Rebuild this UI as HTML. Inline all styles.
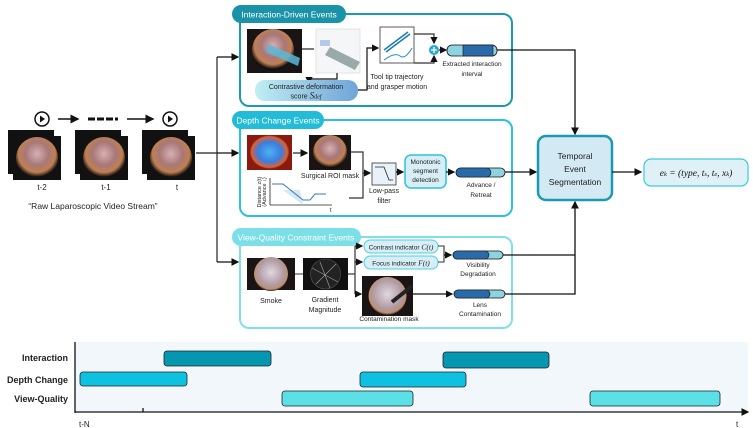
<!DOCTYPE html>
<html><head><meta charset="utf-8"><style>
body{margin:0;background:#fff;}
svg{display:block;font-family:"Liberation Sans",sans-serif;}
</style></head><body>
<svg width="753" height="428" viewBox="0 0 753 428" xmlns="http://www.w3.org/2000/svg">
<defs>
<marker id="ah" markerWidth="6" markerHeight="6" refX="5" refY="3" orient="auto"><path d="M0,0 L6,3 L0,6z" fill="#111"/></marker>
<radialGradient id="ph" cx="50%" cy="40%" r="55%"><stop offset="0" stop-color="#d8b0b4"/><stop offset="0.5" stop-color="#a87878"/><stop offset="0.8" stop-color="#c08050"/><stop offset="0.92" stop-color="#5a3c2c"/><stop offset="1" stop-color="#111"/></radialGradient>
<radialGradient id="sm" cx="50%" cy="45%" r="55%"><stop offset="0" stop-color="#e0d8e0"/><stop offset="0.7" stop-color="#b09aa2"/><stop offset="0.9" stop-color="#c09070"/><stop offset="1" stop-color="#2a2020"/></radialGradient>
<radialGradient id="dm" cx="50%" cy="50%" r="50%"><stop offset="0" stop-color="#4fb0f0"/><stop offset="0.6" stop-color="#3a7de0"/><stop offset="0.9" stop-color="#e06030"/><stop offset="1" stop-color="#7a1a10"/></radialGradient>
<linearGradient id="sc" x1="0" x2="1"><stop offset="0" stop-color="#bfeef3"/><stop offset="1" stop-color="#6fa4d8"/></linearGradient>
</defs>

<g>
<rect x="8" y="130" width="46" height="44" fill="#111"/><rect x="13" y="136" width="48" height="44" fill="#111"/><circle cx="37" cy="158" r="21" fill="url(#ph)"/>
<rect x="75" y="130" width="46" height="44" fill="#111"/><rect x="80" y="136" width="48" height="44" fill="#111"/><circle cx="104" cy="158" r="21" fill="url(#ph)"/>
<rect x="142" y="130" width="46" height="44" fill="#111"/><rect x="147" y="136" width="48" height="44" fill="#111"/><circle cx="171" cy="158" r="21" fill="url(#ph)"/>
<circle cx="42" cy="119" r="7" fill="none" stroke="#111" stroke-width="1.5"/><path d="M40,115.5 L45,119 L40,122.5z" fill="#111"/>
<circle cx="170" cy="119" r="7" fill="none" stroke="#111" stroke-width="1.5"/><path d="M168,115.5 L173,119 L168,122.5z" fill="#111"/>
<line x1="58" y1="119" x2="78" y2="119" stroke="#111" stroke-width="1.5" marker-end="url(#ah)"/>
<line x1="88" y1="119" x2="118" y2="119" stroke="#111" stroke-width="3" stroke-dasharray="7,2"/>
<line x1="127" y1="119" x2="153" y2="119" stroke="#111" stroke-width="1.5" marker-end="url(#ah)"/>
<g font-size="8" fill="#222" text-anchor="middle"><text x="42" y="190">t-2</text><text x="106" y="190">t-1</text><text x="177" y="190">t</text>
<text x="93" y="209" font-size="8.5">“Raw Laparoscopic Video Stream”</text></g>
</g>
<polyline points="196,153 217,153" stroke="#222" stroke-width="1.3" fill="none"/>
<line x1="217" y1="57" x2="217" y2="262" stroke="#333" stroke-width="1.3"/>
<line x1="217" y1="57" x2="238" y2="57" stroke="#111" stroke-width="1.3" marker-end="url(#ah)"/>
<line x1="217" y1="153" x2="238" y2="153" stroke="#111" stroke-width="1.3" marker-end="url(#ah)"/>
<line x1="217" y1="262" x2="238" y2="262" stroke="#111" stroke-width="1.3" marker-end="url(#ah)"/>

<rect x="240" y="14" width="272" height="92" rx="9" fill="#fff" stroke="#1a9ab0" stroke-width="2"/>
<rect x="232" y="5" width="114" height="18" rx="9" fill="#1a93a8"/>
<text x="289" y="17.5" font-size="8.5" fill="#fff" text-anchor="middle">Interaction-Driven Events</text>
<rect x="247" y="29" width="55" height="44" fill="#1a1414"/><circle cx="273" cy="50" r="21" fill="url(#ph)"/><path d="M268,44 L300,58 L298,66 L266,52z" fill="#5ab8d8" opacity="0.85"/>
<rect x="316" y="29" width="44" height="44" fill="#f4f6f8" stroke="#ccc" stroke-width="0.5"/><path d="M325,55 L355,70 L360,62 L330,47z" fill="#9aa" /><rect x="320" y="40" width="10" height="6" fill="#8ad" opacity="0.6"/>
<line x1="302" y1="49" x2="314" y2="49" stroke="#333" stroke-width="1.3"/>
<polyline points="337,73 337,79 309,79 309,83" fill="none" stroke="#111" stroke-width="1.2" marker-end="url(#ah)"/>
<rect x="255" y="80" width="103" height="21" rx="10" fill="url(#sc)"/>
<text x="306" y="89" font-size="7" fill="#222" text-anchor="middle">Contrastive deformation</text>
<text x="306" y="98.5" font-size="7" fill="#222" text-anchor="middle">score <tspan font-family="Liberation Serif" font-style="italic" font-size="9">S</tspan><tspan font-family="Liberation Serif" font-style="italic" font-size="6">def</tspan></text>
<polyline points="358,90 367,90 367,48 378,48" fill="none" stroke="#111" stroke-width="1.2" marker-end="url(#ah)"/>
<rect x="380" y="27" width="34" height="36" fill="#fff" stroke="#333" stroke-width="0.8"/>
<path d="M384,50 L408,32 M386,52 L410,34" stroke="#1a7ab0" stroke-width="1.5"/><path d="M384,60 Q395,52 400,56 T412,48" stroke="#2a8ac8" fill="none"/>
<text x="397" y="79" font-size="7" fill="#222" text-anchor="middle">Tool tip trajectory</text>
<text x="397" y="89" font-size="7" fill="#222" text-anchor="middle">and grasper motion</text>
<polyline points="414,34 434,34 434,43" fill="none" stroke="#333" stroke-width="1.2" marker-end="url(#ah)"/>
<polyline points="414,63 434,63 434,56" fill="none" stroke="#333" stroke-width="1.2" marker-end="url(#ah)"/>
<circle cx="434" cy="50" r="5" fill="#2aa8d0"/><path d="M431,50h6M434,47v6" stroke="#fff" stroke-width="1.3"/>
<line x1="439" y1="50" x2="446" y2="50" stroke="#111" stroke-width="1.2" marker-end="url(#ah)"/>
<rect x="447" y="45" width="50" height="11" rx="5" fill="#8fd3e0" stroke="#111" stroke-width="0.8"/><rect x="463" y="45" width="30" height="11" fill="#2a6aa8" stroke="#111" stroke-width="0.6"/>
<text x="472" y="66" font-size="6.5" fill="#222" text-anchor="middle">Extracted interaction</text>
<text x="472" y="76" font-size="6.5" fill="#222" text-anchor="middle">interval</text>
<polyline points="497,50 575,50 575,134" fill="none" stroke="#111" stroke-width="1.3" marker-end="url(#ah)"/>

<rect x="240" y="120" width="272" height="96" rx="9" fill="#fff" stroke="#2cc0dc" stroke-width="2"/>
<rect x="232" y="111" width="92" height="18" rx="9" fill="#22bcd8"/>
<text x="278" y="123.5" font-size="8.5" fill="#fff" text-anchor="middle">Depth Change Events</text>
<rect x="247" y="135" width="45" height="35" fill="#8a1a10"/><ellipse cx="269.5" cy="152" rx="20" ry="17" fill="url(#dm)"/>
<line x1="293" y1="153" x2="307" y2="153" stroke="#333" stroke-width="1.3" marker-end="url(#ah)"/>
<rect x="309" y="135" width="42" height="35" fill="#1a1414"/><circle cx="330" cy="152" r="17" fill="url(#ph)"/>
<text x="330" y="178" font-size="7" fill="#222" text-anchor="middle">Surgical ROI mask</text>
<polyline points="351,152 363,152 363,173 370,173" fill="none" stroke="#333" stroke-width="1.2" marker-end="url(#ah)"/>
<polyline points="349,198 363,198 363,173" fill="none" stroke="#333" stroke-width="1.2"/>
<line x1="270" y1="178" x2="270" y2="205" stroke="#222" stroke-width="0.8"/><line x1="270" y1="205" x2="332" y2="205" stroke="#222" stroke-width="0.8"/>
<path d="M283,190 L303,205 L300,190z" fill="#b8d8f0" opacity="0.6"/>
<polyline points="272,184 283,184 303,200 310,200 315,194 326,194" fill="none" stroke="#3a7ab8" stroke-width="1"/>
<text x="261" y="192" font-size="5.5" fill="#222" text-anchor="middle" transform="rotate(-90 261 192)">Distance z(t)</text>
<text x="266" y="192" font-size="5.5" fill="#222" text-anchor="middle" transform="rotate(-90 266 192)">(Advance ↓)</text>
<text x="330" y="212" font-size="6" fill="#222">t</text>
<rect x="372" y="163" width="24" height="22" fill="#e8f2f8" stroke="#333" stroke-width="0.8"/><polyline points="375,167 384,167 389,180 393,180" fill="none" stroke="#222" stroke-width="0.8"/>
<text x="384" y="193" font-size="7" fill="#222" text-anchor="middle">Low-pass</text><text x="384" y="203" font-size="7" fill="#222" text-anchor="middle">filter</text>
<line x1="396" y1="172" x2="403" y2="172" stroke="#111" stroke-width="1.2" marker-end="url(#ah)"/>
<rect x="405" y="155" width="41" height="33" rx="6" fill="#d8eef6" stroke="#2cc0dc" stroke-width="1.5"/>
<text x="425.5" y="164" font-size="6.5" fill="#222" text-anchor="middle">Monotonic</text>
<text x="425.5" y="173" font-size="6.5" fill="#222" text-anchor="middle">segment</text>
<text x="425.5" y="182" font-size="6.5" fill="#222" text-anchor="middle">detection</text>
<line x1="446" y1="172" x2="454" y2="172" stroke="#111" stroke-width="1.2" marker-end="url(#ah)"/>
<rect x="456" y="168" width="49" height="9" rx="4.5" fill="#8fd3e0" stroke="#111" stroke-width="0.8"/><rect x="456" y="168" width="35" height="9" rx="4.5" fill="#2a6aa8" stroke="#111" stroke-width="0.6"/>
<text x="481" y="187" font-size="6.5" fill="#222" text-anchor="middle">Advance /</text><text x="481" y="197" font-size="6.5" fill="#222" text-anchor="middle">Retreat</text>
<line x1="505" y1="172" x2="536" y2="172" stroke="#111" stroke-width="1.3" marker-end="url(#ah)"/>

<rect x="240" y="237" width="272" height="91" rx="9" fill="#fff" stroke="#7fe0ea" stroke-width="2"/>
<rect x="232" y="228" width="129" height="18" rx="9" fill="#7cdfe8"/>
<text x="296" y="240.5" font-size="8.5" fill="#fff" text-anchor="middle">View-Quality Constraint Events</text>
<rect x="247" y="258" width="48" height="32" fill="#1a1414"/><circle cx="271" cy="274" r="17" fill="url(#sm)"/>
<line x1="295" y1="274" x2="303" y2="274" stroke="#555" stroke-width="1.2"/>
<rect x="303" y="258" width="45" height="32" fill="#111"/><circle cx="325.5" cy="274" r="15" fill="#222" stroke="#555" stroke-width="0.6"/><path d="M312,268 L338,282 M316,284 L336,264 M320,262 L330,288" stroke="#999" stroke-width="0.7"/>
<text x="271" y="303" font-size="7" fill="#222" text-anchor="middle">Smoke</text>
<text x="325" y="302" font-size="7" fill="#222" text-anchor="middle">Gradient</text><text x="325" y="312" font-size="7" fill="#222" text-anchor="middle">Magnitude</text>
<polyline points="348,274 355,274" stroke="#333" stroke-width="1.2"/>
<polyline points="355,246 355,294" fill="none" stroke="#333" stroke-width="1.2"/>
<line x1="355" y1="246" x2="362" y2="246" stroke="#111" stroke-width="1.2" marker-end="url(#ah)"/>
<line x1="355" y1="262" x2="362" y2="262" stroke="#111" stroke-width="1.2" marker-end="url(#ah)"/>
<line x1="355" y1="294" x2="361" y2="294" stroke="#111" stroke-width="1.2" marker-end="url(#ah)"/>
<rect x="364" y="240" width="74" height="13" rx="6.5" fill="#d8eef6" stroke="#4ccfe0" stroke-width="1"/>
<text x="401" y="249.5" font-size="6.5" fill="#222" text-anchor="middle">Contrast indicator <tspan font-family="Liberation Serif" font-style="italic" font-size="7.5">C(t)</tspan></text>
<rect x="364" y="256" width="74" height="13" rx="6.5" fill="#d8eef6" stroke="#4ccfe0" stroke-width="1"/>
<text x="401" y="265.5" font-size="6.5" fill="#222" text-anchor="middle">Focus indicator <tspan font-family="Liberation Serif" font-style="italic" font-size="7.5">F(t)</tspan></text>
<polyline points="438,246 444,246 444,262 438,262" fill="none" stroke="#333" stroke-width="1.1"/>
<line x1="444" y1="255" x2="451" y2="255" stroke="#111" stroke-width="1.2" marker-end="url(#ah)"/>
<rect x="362" y="276" width="51" height="40" fill="#1a1414"/><circle cx="387.5" cy="296" r="19" fill="url(#sm)"/><path d="M392,302 L412,286" stroke="#222" stroke-width="4"/>
<text x="389" y="321" font-size="6.5" fill="#222" text-anchor="middle">Contamination mask</text>
<line x1="413" y1="294" x2="452" y2="294" stroke="#111" stroke-width="1.2" marker-end="url(#ah)"/>
<rect x="453" y="251" width="50" height="8" rx="4" fill="#8fd3e0" stroke="#111" stroke-width="0.8"/><rect x="453" y="251" width="36" height="8" rx="4" fill="#2a6aa8" stroke="#111" stroke-width="0.6"/>
<text x="478" y="267" font-size="6.5" fill="#222" text-anchor="middle">Visibility</text><text x="478" y="276" font-size="6.5" fill="#222" text-anchor="middle">Degradation</text>
<rect x="454" y="290" width="51" height="8" rx="4" fill="#8fd3e0" stroke="#111" stroke-width="0.8"/><rect x="454" y="290" width="36" height="8" rx="4" fill="#2a6aa8" stroke="#111" stroke-width="0.6"/>
<text x="480" y="307" font-size="6.5" fill="#222" text-anchor="middle">Lens</text><text x="480" y="316" font-size="6.5" fill="#222" text-anchor="middle">Contamination</text>
<polyline points="503,255 575,255" fill="none" stroke="#111" stroke-width="1.3"/>
<polyline points="505,294 575,294 575,202" fill="none" stroke="#111" stroke-width="1.3" marker-end="url(#ah)"/>

<rect x="538" y="136" width="74" height="64" rx="8" fill="#d3e9f3" stroke="#1a9ab0" stroke-width="2.5"/>
<text x="575" y="159" font-size="8.5" fill="#222" text-anchor="middle">Temporal</text>
<text x="575" y="172" font-size="8.5" fill="#222" text-anchor="middle">Event</text>
<text x="575" y="185" font-size="8.5" fill="#222" text-anchor="middle">Segmentation</text>
<line x1="612" y1="172" x2="641" y2="172" stroke="#111" stroke-width="1.3" marker-end="url(#ah)"/>
<rect x="644" y="159" width="104" height="27" rx="7" fill="#dff0f7" stroke="#3cc8e0" stroke-width="1.2"/>
<text x="696" y="176" font-size="9.5" fill="#111" text-anchor="middle" font-family="Liberation Serif" font-style="italic">e<tspan font-size="6.5">k</tspan> = (type, t<tspan font-size="6.5">s</tspan>, t<tspan font-size="6.5">e</tspan>, x<tspan font-size="6.5">k</tspan>)</text>

<rect x="75" y="342" width="673" height="69" fill="#f2f7fb"/>
<line x1="75" y1="342" x2="75" y2="413" stroke="#111" stroke-width="1.3"/>
<line x1="75" y1="412" x2="748" y2="412" stroke="#111" stroke-width="1.3" marker-end="url(#ah)"/>
<line x1="143" y1="408" x2="143" y2="412" stroke="#111" stroke-width="1.3"/>
<g font-size="9" font-weight="bold" fill="#222" text-anchor="end"><text x="68" y="361">Interaction</text><text x="68" y="383">Depth Change</text><text x="68" y="402">View-Quality</text></g>
<text x="79" y="427" font-size="8" fill="#222">t-N</text><text x="736" y="427" font-size="8" fill="#222">t</text>
<g stroke="#222" stroke-width="0.8">
<rect x="164" y="351" width="107" height="15" rx="3" fill="#0597b0"/>
<rect x="443" y="352" width="106" height="16" rx="3" fill="#0597b0"/>
<rect x="80" y="372" width="107" height="14" rx="3" fill="#0fc1e0"/>
<rect x="360" y="372" width="106" height="15" rx="3" fill="#0fc1e0"/>
<rect x="282" y="391" width="131" height="15" rx="3" fill="#5ce0e8"/>
<rect x="590" y="391" width="130" height="15" rx="3" fill="#5ce0e8"/>
</g>
</svg>
</body></html>
